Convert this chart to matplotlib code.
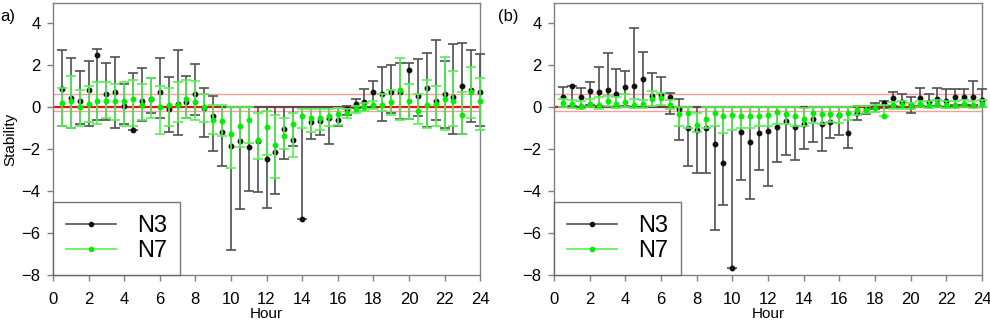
import numpy as np
import matplotlib.pyplot as plt
from matplotlib.lines import Line2D

plt.rcParams['font.family'] = ['Liberation Sans', 'DejaVu Sans']

hours = np.arange(0.5, 24.01, 0.5)

# panel a) -- N3 (mean, lower, upper)
a_n3_mean = [0.85, 0.45, 0.3, 0.8, 2.5, 0.6, 0.7, 0.05, -1.1, 0.3, 0.4, 0.7,
             -0.1, 0.15, 0.25, 0.6, -0.05, -0.45, -1.2, -1.85, -1.6, -1.9, -1.6, -2.5,
             -2.15, -1.05, -1.55, -5.35, -0.7, -0.65, -0.5, -0.6, -0.1, 0.15, 0.25, 0.7,
             0.6, 0.7, 0.7, 1.75, 0.55, 0.9, 0.3, 0.6, 0.5, 1.0, 0.8, 0.7]
a_n3_low = [-0.9, -1.0, -0.8, -0.9, -0.6, -0.6, -1.0, -0.8, -1.1, -0.65, -0.3, -0.5,
            -1.2, -1.35, -0.5, -0.4, -1.45, -2.1, -2.8, -6.8, -4.85, -4.0, -4.05, -4.8,
            -4.15, -2.5, -1.85, -5.35, -1.5, -1.35, -1.75, -0.9, -0.4, -0.05, 0.0, 0.0,
            -0.65, -0.3, -0.55, -0.55, -0.45, -0.95, -0.6, -1.0, -1.3, -1.3, -0.7, -0.9]
a_n3_up = [2.7, 2.35, 1.7, 2.2, 2.75, 2.1, 2.4, 1.1, 1.6, 1.85, 1.4, 2.35,
           1.45, 2.7, 1.5, 2.05, 0.9, 0.55, 0.0, 0.0, 0.0, 0.0, 0.0, 0.0,
           0.0, 0.0, 0.0, 0.0, 0.0, 0.0, 0.0, 0.0, 0.05, 0.4, 0.85, 1.25,
           1.9, 2.0, 2.1, 2.1, 2.3, 2.6, 3.2, 2.2, 3.0, 3.05, 2.7, 2.55]

# panel a) -- N7
a_n7_mean = [0.2, 0.3, 0.0, 0.15, 0.3, 0.3, 0.3, 0.3, 0.4, 0.1, 0.4, 0.0,
             0.1, 0.1, 0.4, 0.25, 0.0, -0.6, -0.65, -1.3, -0.9, -0.6, -1.55, -0.95,
             -1.8, -1.4, -0.8, -0.45, -0.5, -0.5, -0.45, -0.35, -0.3, -0.1, 0.0, 0.1,
             0.1, 0.25, 0.8, 0.3, -0.2, 0.1, 0.15, 0.4, 0.3, -0.4, 0.7, 0.3]
a_n7_low = [-0.9, -1.0, -0.9, -0.7, -0.8, -0.5, -0.6, -0.9, -0.9, -0.6, -0.5, -1.3,
            -0.9, -0.7, -0.5, -0.6, -0.7, -1.3, -1.4, -2.9, -1.9, -1.7, -2.5, -2.3,
            -3.4, -2.0, -2.4, -1.0, -1.2, -1.1, -0.9, -0.85, -0.5, -0.3, -0.2, -0.1,
            -0.2, -0.4, -0.6, -0.55, -0.8, -1.0, -0.9, -1.1, -0.9, -1.3, -0.5, -1.1]
a_n7_up = [0.9, 1.5, 0.8, 1.0, 1.2, 1.2, 1.1, 1.2, 1.3, 1.1, 1.4, 1.0,
           0.9, 1.2, 1.3, 1.25, 0.6, 0.1, 0.1, 0.0, 0.0, 0.0, -0.3, -0.2,
           -0.4, -0.5, -0.3, -0.1, -0.1, -0.1, -0.1, -0.05, -0.1, 0.05, 0.2, 0.3,
           0.6, 0.8, 2.35, 1.1, 0.6, 1.3, 1.0, 2.4, 1.7, 0.7, 1.9, 1.4]

# panel b) -- N3
b_n3_mean = [0.49, 1.0, 0.49, 0.76, 0.73, 0.81, 0.62, 0.94, 1.0, 1.33, 0.52, 0.57,
             0.49, -0.11, -1.02, -1.1, -0.98, -1.76, -2.65, -7.68, -1.21, -1.65, -1.22, -1.14,
             -0.94, -0.65, -0.94, -0.8, -0.59, -0.81, -0.73, -0.38, -1.25, -0.3, -0.1, 0.0,
             0.17, 0.41, 0.25, 0.12, 0.41, 0.25, 0.37, 0.3, 0.46, 0.46, 0.49, 0.35]
b_n3_low = [0.0, 0.05, 0.0, 0.1, 0.05, 0.0, 0.0, 0.05, 0.0, 0.0, 0.0, 0.0,
            -0.35, -1.57, -2.81, -3.16, -3.16, -5.86, -4.67, -7.68, -3.48, -4.4, -3.0, -3.75,
            -2.6, -2.29, -2.52, -2.02, -1.65, -2.08, -1.49, -1.33, -1.97, -0.62, -0.35, -0.1,
            -0.05, 0.05, 0.0, -0.3, 0.05, 0.0, 0.05, 0.0, 0.1, 0.1, 0.1, 0.0]
b_n3_up = [0.94, 1.0, 0.9, 1.2, 1.92, 2.59, 1.79, 1.73, 3.75, 2.63, 1.63, 1.41,
           0.68, 0.38, 0.0, 0.0, 0.0, 0.0, 0.0, 0.0, 0.0, 0.0, 0.0, 0.0,
           0.0, 0.0, 0.0, 0.0, 0.0, 0.0, 0.0, 0.0, 0.0, 0.05, 0.05, 0.2,
           0.3, 0.73, 0.62, 0.49, 0.89, 0.6, 0.89, 0.84, 0.84, 0.84, 1.25, 0.84]

# panel b) -- N7
b_n7_mean = [0.2, 0.15, 0.05, 0.15, 0.1, 0.3, 0.15, 0.25, 0.1, 0.15, 0.4, 0.45,
             0.1, -0.35, -0.3, -0.85, -0.55, -0.3, -0.45, -0.4, -0.45, -0.45, -0.45, -0.4,
             -0.25, -0.35, -0.45, -0.55, -0.3, -0.35, -0.35, -0.4, -0.3, -0.15, -0.15, -0.05,
             -0.45, 0.1, 0.1, 0.05, 0.15, 0.1, 0.15, 0.1, 0.1, 0.15, 0.1, 0.15]
b_n7_low = [0.0, -0.05, -0.1, 0.0, -0.1, 0.05, -0.05, 0.0, -0.05, -0.05, 0.05, 0.1,
            -0.1, -0.9, -1.0, -1.2, -1.0, -0.9, -1.25, -1.1, -1.0, -1.0, -0.9, -0.9,
            -0.8, -0.8, -0.9, -0.9, -0.75, -0.8, -0.7, -0.75, -0.6, -0.4, -0.3, -0.25,
            -0.45, -0.1, -0.1, -0.1, 0.0, -0.05, 0.0, -0.05, -0.05, 0.0, -0.05, 0.0]
b_n7_up = [0.4, 0.35, 0.3, 0.4, 0.5, 0.55, 0.5, 0.6, 0.4, 0.35, 0.75, 0.65,
           0.35, 0.0, 0.0, -0.3, 0.0, 0.0, 0.0, 0.0, 0.0, 0.0, 0.0, 0.0,
           0.0, 0.0, 0.0, -0.05, 0.0, 0.0, 0.0, 0.0, 0.0, 0.05, 0.05, 0.1,
           0.1, 0.25, 0.3, 0.2, 0.3, 0.3, 0.35, 0.3, 0.3, 0.35, 0.3, 0.35]

series_names = ['N3', 'N7']
ref_lines = [0.6, -0.2]

n3_col = '#505050'
n7_col = '#00ee00'
n7_bar = '#55f055'
spine_col = '#808080'


def draw_series(ax, mean, low, up, bar_col, dot_col, z):
    mean = np.asarray(mean)
    low = np.minimum(np.asarray(low), mean)
    up = np.maximum(np.asarray(up), mean)
    ax.errorbar(hours, mean, yerr=[mean - low, up - mean], fmt='o', ms=3.2,
                mfc=dot_col, mec=dot_col, ecolor=bar_col, elinewidth=1.2,
                capsize=3.8, capthick=1.2, zorder=z, clip_on=False)


fig = plt.figure(figsize=(9.9, 3.2), dpi=100)
ax_a = fig.add_axes([0.0535, 0.141, 0.4315, 0.849])
ax_b = fig.add_axes([0.5596, 0.141, 0.4324, 0.849])

panels = [(ax_a, a_n3_mean, a_n3_low, a_n3_up, a_n7_mean, a_n7_low, a_n7_up),
          (ax_b, b_n3_mean, b_n3_low, b_n3_up, b_n7_mean, b_n7_low, b_n7_up)]

for ax, m3, l3, u3, m7, l7, u7 in panels:
    ax.axhline(0, color='#ee1111', lw=1.6, zorder=1)
    for r in ref_lines:
        ax.axhline(r, color='#f4a0a0', lw=1.0, zorder=1)
    draw_series(ax, m3, l3, u3, n3_col, '#111111', 3)
    draw_series(ax, m7, l7, u7, n7_bar, n7_col, 4)

    ax.set_xlim(0, 24)
    ax.set_ylim(-8, 4.95)
    ax.set_xticks(np.arange(0, 25, 2))
    ax.set_yticks(np.arange(-8, 5, 2))
    ax.tick_params(direction='out', length=4, width=1, color=spine_col,
                   labelsize=12, pad=5)
    ax.tick_params(axis='x', pad=8)
    for s in ax.spines.values():
        s.set_color(spine_col)
        s.set_linewidth(1.0)
    ax.set_xlabel('Hour', fontsize=11, labelpad=0)

    handles = [Line2D([], [], color=n3_col, lw=1.2, marker='o', ms=3,
                      mfc='#111111', mec='#111111'),
               Line2D([], [], color=n7_bar, lw=1.2, marker='o', ms=3,
                      mfc=n7_col, mec=n7_col)]
    leg = ax.legend(handles, series_names, loc='lower left', fontsize=17,
                    frameon=True, fancybox=False, borderaxespad=0,
                    handlelength=2.1, borderpad=0.55, labelspacing=0.12,
                    handletextpad=0.9)
    leg.get_frame().set_edgecolor('#555555')
    leg.get_frame().set_linewidth(1.0)
    leg.set_zorder(10)

ax_a.set_ylabel('Stability', fontsize=11, labelpad=3)
fig.text(0.0, 0.935, 'a)', fontsize=12)
fig.text(0.503, 0.935, '(b)', fontsize=12)

plt.savefig('out.png', dpi=100)
